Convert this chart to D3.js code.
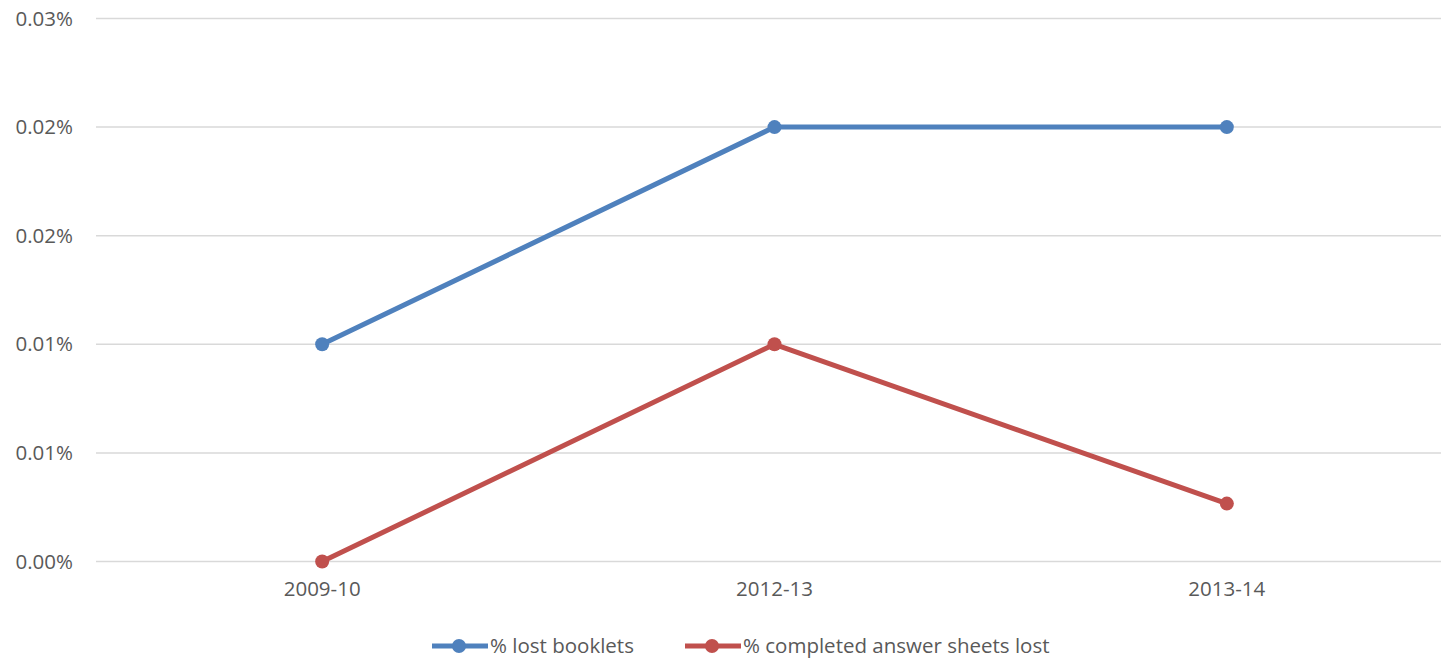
<!DOCTYPE html>
<html>
<head>
<meta charset="utf-8">
<script src="https://cdn.jsdelivr.net/npm/d3@7/dist/d3.min.js"></script>
<style>
  html, body { margin: 0; padding: 0; background: #fff; }
  svg { display: block; font-family: "Open Sans", "Noto Sans", sans-serif; }
</style>
</head>
<body>
<svg id="chart" width="1441" height="658"></svg>
<script>
// Share of material lost, by exam year (values in percent)
const years = ["2009-10", "2012-13", "2013-14"];
const lostBooklets = [0.012, 0.024, 0.024];
const lostAnswerSheets = [0.0, 0.012, 0.0032];
const yTicks = [0, 0.006, 0.012, 0.018, 0.024, 0.030];
const seriesNames = ["% lost booklets", "% completed answer sheets lost"];
const seriesColors = ["#4F81BD", "#C0504D"];

const svg = d3.select("#chart");
const textColor = "#595959";
const fontSize = 20.5;

const x = d3.scaleBand().domain(years).range([96, 1453]);
const y = d3.scaleLinear().domain([0, 0.03]).range([561.5, 18.5]);

// horizontal gridlines
svg.append("g")
  .selectAll("line")
  .data(yTicks)
  .join("line")
  .attr("x1", 96).attr("x2", 1441)
  .attr("y1", d => y(d)).attr("y2", d => y(d))
  .attr("stroke", "#D9D9D9").attr("stroke-width", 1.5);

// y axis labels
const yAxis = d3.axisLeft(y).tickValues(yTicks).tickSize(0).tickPadding(0)
  .tickFormat(d => d3.format(".2f")(d) + "%");
const gy = svg.append("g").attr("transform", "translate(73,0)").call(yAxis);
gy.select(".domain").remove();
gy.selectAll("text").attr("fill", textColor).attr("font-size", fontSize)
  .attr("font-family", "\"Open Sans\", sans-serif");

// x axis labels
const xAxis = d3.axisBottom(x).tickSize(0).tickPadding(0);
const gx = svg.append("g").attr("transform", "translate(0,581)").call(xAxis);
gx.select(".domain").remove();
gx.selectAll("text").attr("fill", textColor).attr("font-size", fontSize)
  .attr("font-family", "\"Open Sans\", sans-serif");

const cx = d => x(d) + x.bandwidth() / 2;
const line = d3.line().x(d => cx(d.year)).y(d => y(d.value));

[lostBooklets, lostAnswerSheets].forEach((vals, i) => {
  const pts = years.map((yr, j) => ({ year: yr, value: vals[j] }));
  const g = svg.append("g");
  g.append("path").datum(pts)
    .attr("d", line).attr("fill", "none")
    .attr("stroke", seriesColors[i]).attr("stroke-width", 5)
    .attr("stroke-linejoin", "round");
  g.selectAll("circle").data(pts).join("circle")
    .attr("cx", d => cx(d.year)).attr("cy", d => y(d.value))
    .attr("r", 7).attr("fill", seriesColors[i]);
});

// legend
const legendX = [432, 685];
const legend = svg.append("g");
seriesNames.forEach((name, i) => {
  const lg = legend.append("g").attr("transform", `translate(${legendX[i]},646)`);
  lg.append("line").attr("x1", 0).attr("x2", 56).attr("y1", 0).attr("y2", 0)
    .attr("stroke", seriesColors[i]).attr("stroke-width", 5);
  lg.append("circle").attr("cx", 27).attr("cy", 0).attr("r", 7).attr("fill", seriesColors[i]);
  lg.append("text").attr("x", 58).attr("y", 0).attr("dy", "0.35em")
    .attr("fill", textColor).attr("font-size", fontSize).text(name);
});
</script>
</body>
</html>
